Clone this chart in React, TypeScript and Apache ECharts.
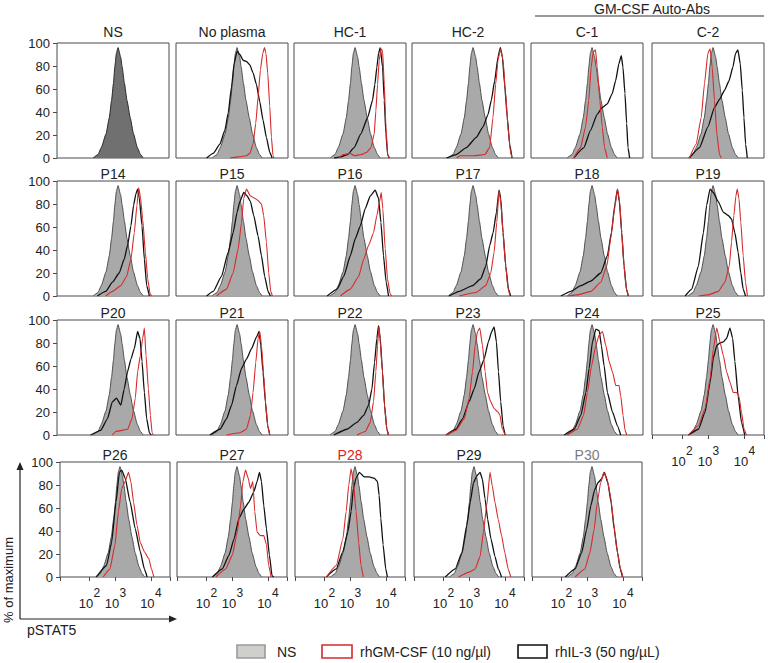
import React, { useEffect, useRef } from 'react';
import * as echarts from 'echarts';

// ---------------- DATA ----------------
const panelTitles = [
  'NS', 'No plasma', 'HC-1', 'HC-2', 'C-1', 'C-2',
  'P14', 'P15', 'P16', 'P17', 'P18', 'P19',
  'P20', 'P21', 'P22', 'P23', 'P24', 'P25',
  'P26', 'P27', 'P28', 'P29', 'P30',
];

// x axis: display channel 0..1000 (logicle-like scale)
const xTickValues = [0, 268, 505, 826, 1000];
const xLabelValues = [268, 505, 826];
const xLabelExponents = ['2', '3', '4'];
const yTickValues = [0, 20, 40, 60, 80, 100];

// unstimulated (NS) histogram, % of maximum
const nsCurve = [[323,0],[366,3],[395,9],[438,21],[467,35],[487,50],[504,65],[516,79],[530,91],[545,96],[568,88],[582,79],[602,65],[625,50],[654,35],[683,21],[718,9],[746,3],[769,0]];

// rhIL-3 (black) and rhGM-CSF (red) histograms
const noPlasmaBlack = [[273,0],[332,4],[392,12],[436,24],[466,39],[496,62],[519,82],[546,93],[570,90],[599,85],[629,84],[659,81],[688,74],[718,64],[748,49],[777,33],[807,18],[837,5],[858,0]];
const noPlasmaRed = [[481,0],[560,1],[629,2],[659,4],[688,12],[712,30],[733,53],[754,77],[775,91],[790,96],[803,91],[819,74],[837,45],[852,18],[866,2],[875,0]];
const hc1Black = [[358,0],[420,1],[478,3],[537,9],[597,21],[657,35],[701,50],[722,64],[740,79],[755,91],[770,96],[791,79],[806,50],[821,21],[836,3],[851,0]];
const hc1Red = [[400,0],[440,3],[500,4],[540,2],[600,3],[650,5],[687,9],[716,21],[731,41],[746,64],[761,85],[776,95],[791,93],[806,64],[821,27],[836,3],[851,0]];
const hc2Black = [[307,0],[396,3],[485,9],[574,18],[634,27],[679,38],[708,50],[738,67],[768,88],[789,96],[807,88],[827,64],[851,35],[872,12],[893,0]];
const hc2Red = [[400,0],[430,2],[550,2],[650,3],[693,9],[723,35],[747,64],[768,85],[789,95],[813,85],[836,56],[857,27],[878,6],[893,0]];
const c1Black = [[382,0],[472,9],[531,24],[591,38],[636,44],[681,47],[725,56],[755,67],[785,82],[806,89],[821,79],[839,56],[854,30],[866,9],[881,0]];
const c1Red = [[382,0],[442,9],[487,27],[516,50],[537,79],[555,92],[576,94],[591,79],[615,50],[636,27],[657,9],[681,0]];
const c2Black = [[334,0],[424,9],[499,27],[558,44],[603,51],[648,59],[687,67],[722,79],[746,91],[767,94],[788,82],[806,59],[821,35],[836,12],[851,0]];
const c2Red = [[334,0],[394,12],[439,35],[469,65],[499,91],[519,95],[537,79],[558,50],[579,21],[603,3],[618,0]];
const p14Black = [[360,0],[435,4],[495,12],[555,20],[600,32],[630,44],[660,61],[684,79],[705,89],[720,93],[735,85],[759,61],[780,32],[801,9],[825,0]];
const p14Red = [[435,0],[495,4],[570,9],[621,17],[660,32],[690,55],[714,79],[729,94],[744,87],[765,67],[789,38],[810,15],[831,2],[846,0]];
const p15Black = [[273,0],[332,4],[406,17],[466,38],[510,55],[546,73],[570,82],[605,90],[635,87],[665,82],[694,70],[733,52],[763,35],[792,17],[822,4],[843,0]];
const p15Red = [[362,0],[451,6],[510,20],[555,41],[585,64],[605,85],[629,93],[665,87],[703,85],[733,83],[763,80],[783,70],[807,47],[828,20],[846,4],[860,0]];
const p16Black = [[296,0],[385,6],[444,17],[503,35],[548,50],[592,61],[636,76],[681,87],[725,92],[755,85],[776,64],[799,35],[823,12],[844,0]];
const p16Red = [[414,0],[503,6],[577,17],[622,32],[666,44],[710,55],[740,70],[764,82],[779,90],[793,76],[814,41],[835,15],[858,2],[873,0]];
const p17Black = [[332,0],[421,4],[540,9],[614,15],[659,26],[694,44],[724,55],[754,73],[777,92],[792,85],[813,55],[837,26],[861,6],[881,0]];
const p17Red = [[421,0],[570,3],[659,9],[703,20],[733,38],[757,64],[777,92],[795,79],[813,55],[837,26],[858,6],[875,0]];
const p18Black = [[267,0],[356,4],[445,9],[534,13],[623,20],[682,35],[718,55],[748,79],[772,93],[789,82],[810,55],[831,26],[852,6],[869,0]];
const p18Red = [[326,0],[415,1],[534,4],[623,12],[677,26],[712,50],[742,73],[772,93],[792,82],[810,55],[831,26],[852,6],[869,0]];
const p19Black = [[296,0],[355,6],[414,26],[459,55],[488,79],[518,93],[547,90],[592,82],[636,73],[681,70],[710,67],[740,55],[769,38],[793,20],[814,6],[835,0]];
const p19Red = [[414,0],[503,1],[592,4],[651,12],[690,26],[710,47],[731,70],[749,87],[761,93],[776,85],[793,64],[814,35],[835,12],[852,0]];
const p20Black = [[300,0],[390,4],[450,14],[495,29],[531,32],[570,26],[600,40],[630,55],[660,66],[690,75],[720,90],[741,84],[759,64],[780,37],[801,14],[825,2],[840,0]];
const p20Red = [[495,0],[525,3],[630,5],[669,14],[699,32],[720,55],[744,69],[765,84],[780,93],[795,69],[816,40],[834,17],[849,2],[861,0]];
const p21Black = [[303,0],[392,5],[451,14],[496,26],[540,43],[585,58],[629,66],[674,75],[718,85],[742,90],[757,78],[777,55],[798,29],[819,8],[837,0]];
const p21Red = [[451,0],[570,2],[629,5],[665,17],[688,37],[712,63],[733,84],[748,90],[763,78],[783,52],[801,26],[819,8],[837,0]];
const p22Black = [[355,0],[474,5],[562,11],[622,17],[666,26],[696,40],[719,63],[740,84],[755,95],[770,84],[790,55],[808,26],[829,5],[844,0]];
const p22Red = [[562,0],[636,3],[681,11],[710,29],[731,55],[746,78],[758,94],[770,81],[790,55],[808,26],[829,5],[844,0]];
const p23Black = [[303,0],[392,5],[451,14],[510,29],[555,40],[599,55],[644,66],[682,81],[712,90],[733,94],[754,81],[772,55],[792,29],[813,8],[831,0]];
const p23Red = [[303,0],[392,4],[466,14],[510,32],[540,55],[564,78],[585,90],[605,93],[629,78],[653,55],[674,37],[703,29],[733,23],[769,20],[786,17],[807,5],[831,0]];
const p24Black = [[297,0],[386,5],[445,17],[490,37],[519,58],[549,81],[579,92],[608,91],[628,78],[653,60],[682,37],[727,20],[772,8],[801,0]];
const p24Red = [[326,0],[415,5],[469,17],[504,37],[540,60],[579,78],[608,87],[638,90],[668,78],[697,64],[727,55],[757,43],[786,43],[801,34],[822,17],[840,4],[855,0]];
const p25Black = [[326,0],[415,5],[474,20],[519,46],[548,67],[578,78],[607,80],[637,81],[666,84],[696,93],[720,84],[740,64],[769,34],[799,11],[828,0]];
const p25Red = [[326,0],[415,8],[474,23],[519,49],[548,75],[578,93],[607,81],[637,69],[666,55],[696,46],[725,37],[755,37],[775,34],[799,20],[822,5],[843,0]];
const p26Black = [[331,0],[423,10],[469,30],[509,65],[540,91],[561,93],[592,86],[638,65],[684,42],[730,22],[767,7],[792,0]];
const p26Red = [[393,0],[454,7],[500,28],[531,57],[561,77],[592,83],[623,91],[644,83],[669,65],[700,45],[730,30],[767,22],[807,16],[832,7],[853,0]];
const p27Black = [[322,0],[412,7],[473,19],[518,33],[563,51],[608,59],[653,65],[698,74],[728,83],[750,91],[768,83],[789,62],[813,42],[840,19],[864,1],[879,0]];
const p27Red = [[352,0],[443,7],[503,19],[548,39],[578,62],[599,83],[623,93],[647,86],[668,77],[689,83],[707,57],[728,39],[759,36],[789,36],[813,28],[834,10],[855,0]];
const p28Black = [[285,0],[375,7],[435,22],[480,39],[510,57],[531,77],[555,86],[585,91],[630,87],[675,87],[720,86],[750,83],[765,71],[780,51],[801,28],[825,7],[840,0]];
const p28Red = [[285,0],[375,10],[435,33],[465,57],[489,80],[510,94],[531,83],[555,57],[579,30],[600,10],[621,0]];
const p29Black = [[285,0],[375,7],[435,21],[480,45],[511,65],[541,82],[571,88],[601,91],[622,85],[646,68],[670,50],[700,33],[736,18],[766,7],[796,0]];
const p29Red = [[405,0],[495,4],[556,7],[601,18],[631,39],[661,62],[691,91],[712,79],[736,65],[766,50],[796,36],[826,21],[856,7],[880,0]];
const p30Black = [[303,0],[392,7],[451,21],[496,41],[535,62],[570,76],[600,82],[630,85],[659,91],[689,82],[719,65],[748,41],[778,21],[802,7],[823,0]];
const p30Red = [[392,0],[481,7],[526,21],[564,41],[594,65],[624,82],[653,91],[683,85],[713,71],[743,47],[772,24],[802,8],[826,0]];

const blackCurves = [null, noPlasmaBlack, hc1Black, hc2Black, c1Black, c2Black,
  p14Black, p15Black, p16Black, p17Black, p18Black, p19Black,
  p20Black, p21Black, p22Black, p23Black, p24Black, p25Black,
  p26Black, p27Black, p28Black, p29Black, p30Black];
const redCurves = [null, noPlasmaRed, hc1Red, hc2Red, c1Red, c2Red,
  p14Red, p15Red, p16Red, p17Red, p18Red, p19Red,
  p20Red, p21Red, p22Red, p23Red, p24Red, p25Red,
  p26Red, p27Red, p28Red, p29Red, p30Red];

const legendLabels = ['NS', 'rhGM-CSF (10 ng/µl)', 'rhIL-3 (50 ng/µL)'];

// ---------------- LAYOUT / STYLE ----------------
const FONT = '"Liberation Sans", Arial, Helvetica, sans-serif';
const ROW_TOP = [43, 181, 320, 462];
const COL_LEFT = [
  [57, 176, 294, 412, 531, 652],
  [57, 176, 294, 412, 531, 652],
  [57, 176, 294, 412, 531, 652],
  [60, 177, 295, 414, 532],
];
const PANEL_W = [112, 112, 112, 110];
const PANEL_H = 115;
const TITLE_Y = [32, 173.5, 313, 454.5];
const TEXT = '#222';
const BORDER = '#4a4a4a';
const RED = '#d62a2a';
const BLACK = '#111';

function titleColor(t: string) {
  if (t === 'P28') return '#e3201c';
  if (t === 'P30') return '#7d7d7d';
  return TEXT;
}

function buildOption() {
  const grid: any[] = [];
  const xAxis: any[] = [];
  const yAxis: any[] = [];
  const series: any[] = [];
  const graphic: any[] = [];

  const labelRich = {
    e: { fontSize: 12, lineHeight: 11, align: 'right', color: TEXT, fontFamily: FONT },
    b: { fontSize: 13, lineHeight: 11, color: TEXT, fontFamily: FONT },
    s: { width: 7, fontSize: 13, lineHeight: 11 },
  };

  panelTitles.forEach((title, i) => {
    const row = Math.floor(i / 6);
    const col = i % 6;
    const left = COL_LEFT[row][col];
    const top = ROW_TOP[row];
    const width = PANEL_W[row];
    grid.push({
      left, top, width, height: PANEL_H,
      show: true, borderColor: BORDER, borderWidth: 1, backgroundColor: '#fff',
      containLabel: false, outerBoundsMode: 'none',
    });
    const showX = row === 3 || (row === 2 && col === 5);
    xAxis.push({
      gridIndex: i, type: 'value', min: 0, max: 1000,
      axisLine: { show: false }, splitLine: { show: false },
      axisTick: { show: showX, customValues: xTickValues, length: 4, lineStyle: { color: BORDER, width: 1 } },
      axisLabel: {
        show: showX, customValues: xLabelValues, margin: 10,
        formatter: (v: number) => {
          let idx = 0;
          let best = Infinity;
          xLabelValues.forEach((lv, k) => { const d = Math.abs(lv - v); if (d < best) { best = d; idx = k; } });
          return `{e|${xLabelExponents[idx]}}\n{b|10}{s| }`;
        },
        rich: labelRich,
      },
    });
    yAxis.push({
      gridIndex: i, type: 'value', min: 0, max: 100, interval: 20,
      axisLine: { show: false }, splitLine: { show: false },
      axisTick: { show: col === 0, length: 4, lineStyle: { color: BORDER, width: 1 } },
      axisLabel: {
        show: col === 0, margin: 7, fontSize: 13, color: TEXT, fontFamily: FONT,
        customValues: yTickValues,
      },
    });
    const isNS = i === 0;
    series.push({
      name: 'NS', type: 'line', xAxisIndex: i, yAxisIndex: i, data: nsCurve,
      symbol: 'none', smooth: 0.15, smoothMonotone: 'x', silent: true,
      lineStyle: { color: isNS ? '#2a2a2a' : '#505050', width: 1 },
      areaStyle: { color: isNS ? '#707070' : '#a9a9a9', opacity: 1 },
      z: 2,
    });
    const bc = blackCurves[i];
    if (bc) {
      series.push({
        name: legendLabels[2], type: 'line', xAxisIndex: i, yAxisIndex: i, data: bc,
        symbol: 'none', smooth: 0.15, smoothMonotone: 'x', silent: true,
        lineStyle: { color: BLACK, width: 1.3 }, z: 3,
      });
    }
    const rc = redCurves[i];
    if (rc) {
      series.push({
        name: legendLabels[1], type: 'line', xAxisIndex: i, yAxisIndex: i, data: rc,
        symbol: 'none', smooth: 0.15, smoothMonotone: 'x', silent: true,
        lineStyle: { color: RED, width: 1.1 }, z: 4,
      });
    }
    graphic.push({
      type: 'text', x: left + width / 2, y: TITLE_Y[row], silent: true,
      style: {
        text: title, fill: titleColor(title), fontSize: 14, fontFamily: FONT,
        textAlign: 'center', textVerticalAlign: 'middle', align: 'center', verticalAlign: 'middle',
      },
    });
  });

  // header over C-1 / C-2
  graphic.push({
    type: 'text', x: 652, y: 8.5, silent: true,
    style: { text: 'GM-CSF Auto-Abs', fill: TEXT, fontSize: 14, fontFamily: FONT,
      textAlign: 'center', textVerticalAlign: 'middle', align: 'center', verticalAlign: 'middle' },
  });
  graphic.push({ type: 'line', silent: true, shape: { x1: 535, y1: 16, x2: 764, y2: 16 }, style: { stroke: '#333', lineWidth: 1 } });

  // corner axis arrows
  graphic.push({ type: 'line', silent: true, shape: { x1: 20, y1: 619, x2: 20, y2: 468 }, style: { stroke: '#222', lineWidth: 1.2 } });
  graphic.push({ type: 'polygon', silent: true, shape: { points: [[20, 462], [16.5, 470], [23.5, 470]] }, style: { fill: '#222' } });
  graphic.push({ type: 'line', silent: true, shape: { x1: 20, y1: 619, x2: 171, y2: 619 }, style: { stroke: '#222', lineWidth: 1.2 } });
  graphic.push({ type: 'polygon', silent: true, shape: { points: [[177, 619], [169, 615.5], [169, 622.5]] }, style: { fill: '#222' } });
  graphic.push({
    type: 'text', x: 8.5, y: 580, rotation: Math.PI / 2, silent: true,
    style: { text: '% of maximum', fill: TEXT, fontSize: 13, fontFamily: FONT,
      textAlign: 'center', textVerticalAlign: 'middle', align: 'center', verticalAlign: 'middle' },
  });
  graphic.push({
    type: 'text', x: 27, y: 630, silent: true,
    style: { text: 'pSTAT5', fill: TEXT, fontSize: 14, fontFamily: FONT,
      textAlign: 'left', textVerticalAlign: 'middle', align: 'left', verticalAlign: 'middle' },
  });

  // legend
  const legendItems = [
    { x: 237, w: 28, fill: '#cfcfcb', stroke: '#9a9a9a', tx: 277 },
    { x: 322, w: 30, fill: '#ffffff', stroke: RED, tx: 360 },
    { x: 518, w: 29, fill: '#ffffff', stroke: BLACK, tx: 555 },
  ];
  legendItems.forEach((it, k) => {
    graphic.push({ type: 'rect', silent: true, shape: { x: it.x, y: 645, width: it.w, height: 13 },
      style: { fill: it.fill, stroke: it.stroke, lineWidth: 1.6 } });
    graphic.push({
      type: 'text', x: it.tx, y: 652, silent: true,
      style: { text: legendLabels[k], fill: TEXT, fontSize: 14, fontFamily: FONT,
        textAlign: 'left', textVerticalAlign: 'middle', align: 'left', verticalAlign: 'middle' },
    });
  });

  return {
    animation: false,
    backgroundColor: '#ffffff',
    textStyle: { fontFamily: FONT },
    grid, xAxis, yAxis, series, graphic,
  };
}

export default function App() {
  const ref = useRef<HTMLDivElement>(null);
  useEffect(() => {
    if (!ref.current) return;
    const chart = echarts.init(ref.current, null, { renderer: 'svg' });
    chart.setOption(buildOption() as any);
    return () => chart.dispose();
  }, []);
  return (
    <div
      ref={ref}
      style={{ position: 'fixed', left: 0, top: 0, width: 768, height: 663, background: '#fff' }}
    />
  );
}
